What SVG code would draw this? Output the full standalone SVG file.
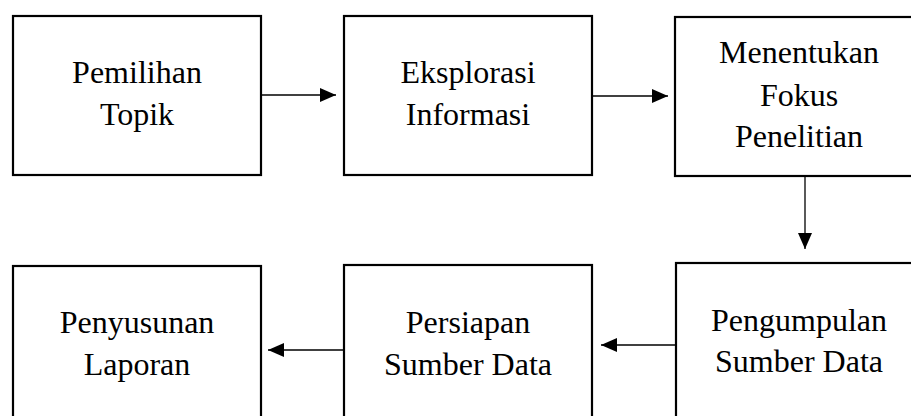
<svg xmlns="http://www.w3.org/2000/svg" width="911" height="416" viewBox="0 0 911 416">
<style>
.box{fill:#fff;stroke:#000;stroke-width:2.2}
.lbl{font-family:"Liberation Serif","Times New Roman",serif;font-size:32px;fill:#000;text-anchor:middle}
.con{stroke:#000;stroke-width:1.3;fill:none}
</style>
<defs>
<marker id="ah" viewBox="0 0 16 14" refX="16" refY="7" markerWidth="16" markerHeight="14" markerUnits="userSpaceOnUse" orient="auto">
<path d="M0,0 L16,7 L0,14 Z" fill="#000"/>
</marker>
</defs>
<rect width="911" height="416" fill="#fff"/>
<g id="n1"><rect class="box" x="13" y="16" width="248" height="159"/>
<text class="lbl" x="137" y="83">Pemilihan</text><text class="lbl" x="137" y="125">Topik</text></g>
<g id="n2"><rect class="box" x="344" y="16" width="248" height="159"/>
<text class="lbl" x="468" y="83">Eksplorasi</text><text class="lbl" x="468" y="125">Informasi</text></g>
<g id="n3"><rect class="box" x="675" y="17" width="250" height="159"/>
<text class="lbl" x="799" y="63">Menentukan</text><text class="lbl" x="799" y="106">Fokus</text><text class="lbl" x="799" y="147">Penelitian</text></g>
<g id="n4"><rect class="box" x="676" y="263" width="250" height="160"/>
<text class="lbl" x="799" y="331">Pengumpulan</text><text class="lbl" x="799" y="372">Sumber Data</text></g>
<g id="n5"><rect class="box" x="344" y="265" width="248" height="160"/>
<text class="lbl" x="468" y="333">Persiapan</text><text class="lbl" x="468" y="375">Sumber Data</text></g>
<g id="n6"><rect class="box" x="13" y="266" width="248" height="160"/>
<text class="lbl" x="137" y="333">Penyusunan</text><text class="lbl" x="137" y="375">Laporan</text></g>
<g id="connectors">
<line class="con" x1="262" y1="95" x2="336" y2="95" marker-end="url(#ah)"/>
<line class="con" x1="593" y1="96" x2="668" y2="96" marker-end="url(#ah)"/>
<line class="con" x1="805" y1="177" x2="805" y2="249" marker-end="url(#ah)"/>
<line class="con" x1="675" y1="345" x2="601" y2="345" marker-end="url(#ah)"/>
<line class="con" x1="343" y1="350" x2="268" y2="350" marker-end="url(#ah)"/>
</g>
</svg>
